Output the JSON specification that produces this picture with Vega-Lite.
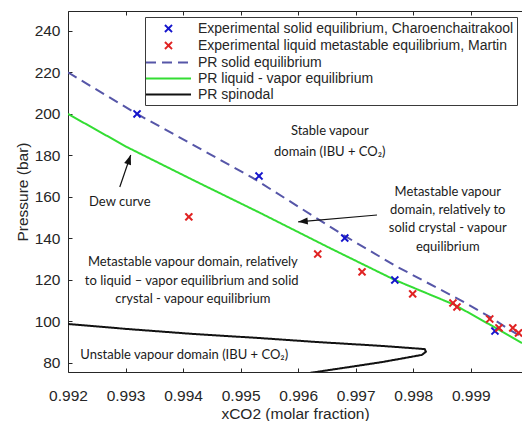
{
  "$schema": "https://vega.github.io/schema/vega-lite/v6.json",
  "width": 454,
  "height": 361,
  "autosize": {"type": "none"},
  "padding": {"left": 68, "top": 11, "right": 0, "bottom": 49},
  "background": "white",
  "config": {
    "view": {"stroke": null},
    "axis": {
      "grid": false,
      "domainColor": "#262626",
      "tickColor": "#262626",
      "labelColor": "#262626",
      "titleColor": "#262626",
      "labelFont": "Liberation Sans",
      "titleFont": "Liberation Sans",
      "labelFontSize": 15.5,
      "titleFontSize": 15.5,
      "titleFontWeight": "normal",
      "tickSize": -4,
      "labelFlush": false,
      "labelOverlap": false
    },
    "legend": {
      "orient": "none",
      "legendX": 77,
      "legendY": 6,
      "labelFont": "Liberation Sans",
      "labelFontSize": 14,
      "labelColor": "#262626",
      "labelLimit": 600,
      "strokeColor": "#3a3a3a",
      "fillColor": "white",
      "padding": 3,
      "rowPadding": 0,
      "symbolSize": 225,
      "symbolStrokeWidth": 2,
      "symbolOffset": 12,
      "labelOffset": 21
    }
  },
  "datasets": {
    "lines": [
      {"series": "PR solid equilibrium", "x": 0.992, "p": 220.0, "ord": 1},
      {"series": "PR solid equilibrium", "x": 0.9932, "p": 200.0, "ord": 2},
      {"series": "PR solid equilibrium", "x": 0.99521, "p": 169.2, "ord": 3},
      {"series": "PR solid equilibrium", "x": 0.99681, "p": 141.2, "ord": 4},
      {"series": "PR solid equilibrium", "x": 0.99771, "p": 126.5, "ord": 5},
      {"series": "PR solid equilibrium", "x": 0.99881, "p": 110.4, "ord": 6},
      {"series": "PR solid equilibrium", "x": 0.99933, "p": 102.2, "ord": 7},
      {"series": "PR solid equilibrium", "x": 0.99968, "p": 95.9, "ord": 8},
      {"series": "PR solid equilibrium", "x": 0.99989, "p": 92.5, "ord": 9},
      {"series": "PR liquid - vapor equilibrium", "x": 0.992, "p": 200.0, "ord": 1},
      {"series": "PR liquid - vapor equilibrium", "x": 0.99302, "p": 184.1, "ord": 2},
      {"series": "PR liquid - vapor equilibrium", "x": 0.99417, "p": 168.2, "ord": 3},
      {"series": "PR liquid - vapor equilibrium", "x": 0.99534, "p": 152.3, "ord": 4},
      {"series": "PR liquid - vapor equilibrium", "x": 0.99655, "p": 135.4, "ord": 5},
      {"series": "PR liquid - vapor equilibrium", "x": 0.99768, "p": 120.0, "ord": 6},
      {"series": "PR liquid - vapor equilibrium", "x": 0.99872, "p": 108.0, "ord": 7},
      {"series": "PR liquid - vapor equilibrium", "x": 0.99933, "p": 98.5, "ord": 8},
      {"series": "PR liquid - vapor equilibrium", "x": 0.99989, "p": 89.6, "ord": 9},
      {"series": "PR spinodal", "x": 0.992, "p": 98.8, "ord": 1},
      {"series": "PR spinodal", "x": 0.99302, "p": 96.4, "ord": 2},
      {"series": "PR spinodal", "x": 0.99417, "p": 94.0, "ord": 3},
      {"series": "PR spinodal", "x": 0.99534, "p": 92.0, "ord": 4},
      {"series": "PR spinodal", "x": 0.99633, "p": 90.1, "ord": 5},
      {"series": "PR spinodal", "x": 0.99747, "p": 88.2, "ord": 6},
      {"series": "PR spinodal", "x": 0.9982, "p": 86.7, "ord": 7},
      {"series": "PR spinodal", "x": 0.99822, "p": 85.4, "ord": 8},
      {"series": "PR spinodal", "x": 0.99815, "p": 83.9, "ord": 9},
      {"series": "PR spinodal", "x": 0.99747, "p": 80.5, "ord": 10},
      {"series": "PR spinodal", "x": 0.9969, "p": 78.1, "ord": 11},
      {"series": "PR spinodal", "x": 0.9962, "p": 75.2, "ord": 12}
    ],
    "pts": [
      {"series": "Experimental solid equilibrium, Charoenchaitrakool", "x": 0.9932, "p": 200.0},
      {"series": "Experimental solid equilibrium, Charoenchaitrakool", "x": 0.99532, "p": 170.1},
      {"series": "Experimental solid equilibrium, Charoenchaitrakool", "x": 0.99681, "p": 140.2},
      {"series": "Experimental solid equilibrium, Charoenchaitrakool", "x": 0.99768, "p": 120.0},
      {"series": "Experimental solid equilibrium, Charoenchaitrakool", "x": 0.99942, "p": 95.4},
      {"series": "Experimental liquid metastable equilibrium, Martin", "x": 0.9941, "p": 150.4},
      {"series": "Experimental liquid metastable equilibrium, Martin", "x": 0.99634, "p": 132.5},
      {"series": "Experimental liquid metastable equilibrium, Martin", "x": 0.99711, "p": 123.9},
      {"series": "Experimental liquid metastable equilibrium, Martin", "x": 0.99799, "p": 113.3},
      {"series": "Experimental liquid metastable equilibrium, Martin", "x": 0.99869, "p": 108.9},
      {"series": "Experimental liquid metastable equilibrium, Martin", "x": 0.99876, "p": 107.0},
      {"series": "Experimental liquid metastable equilibrium, Martin", "x": 0.99933, "p": 101.2},
      {"series": "Experimental liquid metastable equilibrium, Martin", "x": 0.99949, "p": 96.9},
      {"series": "Experimental liquid metastable equilibrium, Martin", "x": 0.99973, "p": 96.9},
      {"series": "Experimental liquid metastable equilibrium, Martin", "x": 0.99983, "p": 94.5}
    ],
    "notes": [
      {"t": "Stable vapour", "x": 0.99655, "p": 191.8},
      {"t": "domain (IBU + CO₂)", "x": 0.99655, "p": 181.7},
      {"t": "Metastable vapour", "x": 0.9986, "p": 162.4},
      {"t": "domain, relatively to", "x": 0.9986, "p": 153.7},
      {"t": "solid crystal  - vapour", "x": 0.9986, "p": 145.1},
      {"t": "equilibrium", "x": 0.9986, "p": 135.9},
      {"t": "Dew curve", "x": 0.9929, "p": 157.6},
      {"t": "Metastable vapour  domain, relatively", "x": 0.99417, "p": 128.7},
      {"t": "to liquid – vapor equilibrium and solid", "x": 0.99415, "p": 119.5},
      {"t": "crystal  - vapour equilibrium", "x": 0.99417, "p": 110.8},
      {"t": "Unstable vapour domain (IBU + CO₂)", "x": 0.99402, "p": 83.9}
    ],
    "arrows": [
      {"id": "dew", "x": 0.9929, "p": 164.8, "x2": 0.99309, "p2": 180.2},
      {"id": "meta", "x": 0.99737, "p": 151.3, "x2": 0.996, "p2": 148.0}
    ]
  },
  "resolve": {
    "scale": {"color": "independent", "shape": "independent", "strokeDash": "independent"},
    "axis": {"x": "independent", "y": "independent"}
  },
  "layer": [
    {
      "data": {"name": "lines"},
      "mark": {"type": "line", "clip": true, "strokeCap": "butt"},
      "encoding": {
        "x": {
          "field": "x", "type": "quantitative",
          "scale": {"domain": [0.992, 0.99989], "nice": false, "zero": false},
          "axis": {"orient": "bottom", "values": [0.992, 0.993, 0.994, 0.995, 0.996, 0.997, 0.998, 0.999], "format": ".3f", "labelPadding": 20, "title": "xCO2 (molar fraction)", "titlePadding": 3}
        },
        "y": {
          "field": "p", "type": "quantitative",
          "scale": {"domain": [75.66, 249.6], "nice": false, "zero": false},
          "axis": {"orient": "left", "values": [80, 100, 120, 140, 160, 180, 200, 220, 240], "labelPadding": 12, "title": "Pressure (bar)", "titlePadding": 4}
        },
        "color": {
          "field": "series", "type": "nominal",
          "scale": {
            "domain": ["Experimental solid equilibrium, Charoenchaitrakool", "Experimental liquid metastable equilibrium, Martin", "PR solid equilibrium", "PR liquid - vapor equilibrium", "PR spinodal"],
            "range": ["#1414cc", "#e02222", "#5656a8", "#33dd33", "#111111"]
          },
          "legend": null
        },
        "strokeDash": {
          "field": "series", "type": "nominal",
          "scale": {
            "domain": ["Experimental solid equilibrium, Charoenchaitrakool", "Experimental liquid metastable equilibrium, Martin", "PR solid equilibrium", "PR liquid - vapor equilibrium", "PR spinodal"],
            "range": [[1, 0], [1, 0], [10, 6], [1, 0], [1, 0]]
          },
          "legend": null
        },
        "strokeWidth": {
          "field": "series", "type": "nominal",
          "scale": {
            "domain": ["Experimental solid equilibrium, Charoenchaitrakool", "Experimental liquid metastable equilibrium, Martin", "PR solid equilibrium", "PR liquid - vapor equilibrium", "PR spinodal"],
            "range": [2, 2, 1.5, 2.5, 2.5]
          },
          "legend": null
        },
        "order": {"field": "ord", "type": "quantitative"}
      }
    },
    {
      "data": {"name": "pts"},
      "mark": {"type": "point", "filled": false, "size": 225, "strokeWidth": 2, "opacity": 1, "clip": true},
      "encoding": {
        "x": {
          "field": "x", "type": "quantitative",
          "axis": {"orient": "top", "values": [0.992, 0.993, 0.994, 0.995, 0.996, 0.997, 0.998, 0.999], "labels": false, "title": null}
        },
        "y": {"field": "p", "type": "quantitative", "axis": null},
        "color": {
          "field": "series", "type": "nominal",
          "scale": {
            "domain": ["Experimental solid equilibrium, Charoenchaitrakool", "Experimental liquid metastable equilibrium, Martin", "PR solid equilibrium", "PR liquid - vapor equilibrium", "PR spinodal"],
            "range": ["#1414cc", "#e02222", "#5656a8", "#33dd33", "#111111"]
          },
          "legend": {"title": null, "orient": "none", "legendX": 77, "legendY": 6}
        },
        "shape": {
          "field": "series", "type": "nominal",
          "scale": {
            "domain": ["Experimental solid equilibrium, Charoenchaitrakool", "Experimental liquid metastable equilibrium, Martin", "PR solid equilibrium", "PR liquid - vapor equilibrium", "PR spinodal"],
            "range": ["M-0.47,-0.47L0.47,0.47M-0.47,0.47L0.47,-0.47", "M-0.47,-0.47L0.47,0.47M-0.47,0.47L0.47,-0.47", "M-3,0L3,0", "M-3,0L3,0", "M-3,0L3,0"]
          },
          "legend": {"title": null, "orient": "none", "legendX": 77, "legendY": 6}
        },
        "strokeDash": {
          "field": "series", "type": "nominal",
          "scale": {
            "domain": ["Experimental solid equilibrium, Charoenchaitrakool", "Experimental liquid metastable equilibrium, Martin", "PR solid equilibrium", "PR liquid - vapor equilibrium", "PR spinodal"],
            "range": [[1, 0], [1, 0], [10, 6], [1, 0], [1, 0]]
          },
          "legend": {"title": null, "orient": "none", "legendX": 77, "legendY": 6}
        }
      }
    },
    {
      "data": {"name": "notes"},
      "mark": {"type": "text", "font": "Lato", "fontSize": 13, "color": "#1a1a1a", "align": "center", "baseline": "middle"},
      "encoding": {
        "x": {"field": "x", "type": "quantitative", "axis": null},
        "y": {"field": "p", "type": "quantitative", "axis": null},
        "text": {"field": "t", "type": "nominal"}
      }
    },
    {
      "data": {"name": "arrows"},
      "mark": {"type": "rule", "color": "#111111", "strokeWidth": 1.2},
      "encoding": {
        "x": {"field": "x", "type": "quantitative", "axis": null},
        "y": {"field": "p", "type": "quantitative", "axis": null},
        "x2": {"field": "x2"},
        "y2": {"field": "p2"}
      }
    },
    {
      "data": {"name": "arrows"},
      "transform": [{"filter": "datum.id === 'dew'"}],
      "mark": {"type": "point", "shape": "M0,-1.2L-0.9,1.2L0.9,1.2Z", "size": 64, "filled": true, "color": "#111111", "strokeWidth": 0, "opacity": 1, "angle": 19, "xOffset": -1.56, "yOffset": 4.54},
      "encoding": {
        "x": {"field": "x2", "type": "quantitative", "axis": null},
        "y": {"field": "p2", "type": "quantitative", "axis": null}
      }
    },
    {
      "data": {"name": "arrows"},
      "transform": [{"filter": "datum.id === 'meta'"}],
      "mark": {"type": "point", "shape": "M0,-1.2L-0.9,1.2L0.9,1.2Z", "size": 64, "filled": true, "color": "#111111", "strokeWidth": 0, "opacity": 1, "angle": 265, "xOffset": 4.78, "yOffset": -0.42},
      "encoding": {
        "x": {"field": "x2", "type": "quantitative", "axis": null},
        "y": {"field": "p2", "type": "quantitative", "axis": null}
      }
    }
  ]
}
